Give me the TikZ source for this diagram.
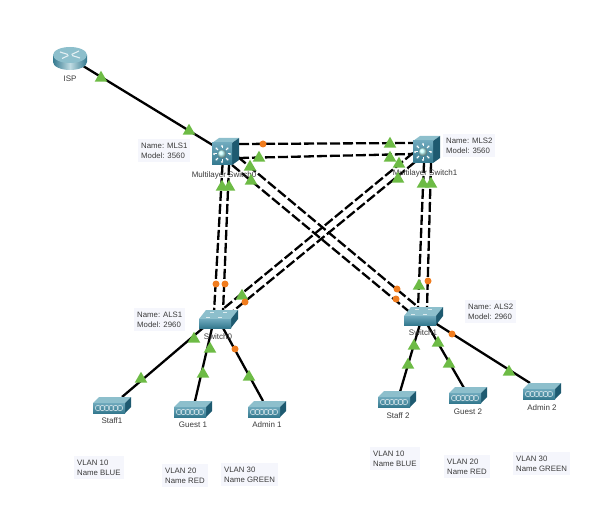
\documentclass[tikz,border=0pt]{standalone}
\usepackage{fontspec}
\setmainfont{Liberation Sans}
\usetikzlibrary{shapes.geometric,arrows.meta}
\definecolor{faceTeal}{HTML}{4A93AB}
\definecolor{faceDeep}{HTML}{34798F}
\definecolor{topTeal}{HTML}{8DBFCC}
\definecolor{sideTeal}{HTML}{1E5A70}
\definecolor{infoBack}{HTML}{F5F6FC}
\definecolor{labelInk}{HTML}{3A3A3A}
\definecolor{portGreen}{HTML}{6DBB45}
\definecolor{portOrange}{HTML}{F07C1E}
\tikzset{
  anchorbox/.style={inner sep=0pt,minimum width=#1,minimum height=10},
  link/.style={line width=2.3pt,black},
  trunk/.style={line width=2.3pt,black,dash pattern=on 10pt off 3pt},
  devlabel/.style={font=\fontsize{8}{9.5}\selectfont,text=labelInk,inner sep=0pt},
  infobox/.style={font=\fontsize{7.8}{10.6}\selectfont,text=labelInk,align=left,anchor=north west,
    fill=infoBack,inner xsep=3pt,inner ysep=3.5pt},
  upmark/.style={regular polygon,regular polygon sides=3,fill=portGreen,inner sep=0pt,minimum size=14.5pt},
  downmark/.style={circle,fill=portOrange,inner sep=0pt,minimum size=7pt},
}
% Generic 3D box: #1,#2 front lower-left corner, #3 width, #4 front height, #5,#6 depth offsets
\newcommand{\boxbody}[6]{%
  \begin{scope}[shift={(#1,#2)}]
    \fill[topTeal] (0,-#4) -- (#3,-#4) -- ++(#5,-#6) -- ++(-#3,0) -- cycle;
    \fill[sideTeal] (#3,0) -- (#3,-#4) -- ++(#5,-#6) -- ++(0,#4) -- cycle;
    \shade[top color=faceTeal!80!white,bottom color=faceDeep] (0,0) rectangle (#3,-#4);
  \end{scope}}
% Multilayer switch: radial arrows around a glossy sphere
\newcommand{\multilayericon}[2]{%
  \boxbody{#1}{#2}{20}{22}{7}{5}
  \begin{scope}[shift={(#1+10,#2-11)}]
    \foreach \ang in {0,45,...,315}
      \draw[white,line width=1pt,-{Latex[length=2pt,width=2.6pt]}] (\ang:5.5) -- (\ang:9.3);
    \shade[ball color=cyan!25!white] (0,0) circle (4.3);
  \end{scope}}
% Access switch: flat box with small port marks on the top face
\newcommand{\accessicon}[2]{%
  \boxbody{#1}{#2}{32}{9}{7}{9}
  \begin{scope}[shift={(#1,#2-9)}]
    \foreach \px/\py in {7/-2,19/-2,11/-6.5,24/-6.5}
      \draw[white!70!topTeal,line width=.8pt] (\px,\py) -- ++(4,0);
  \end{scope}}
% End device: low box with a chain of rings on the front
\newcommand{\ringicon}[2]{%
  \boxbody{#1}{#2}{32}{10}{6}{6}
  \begin{scope}[shift={(#1+5,#2-5)}]
    \foreach \cx in {0,4.4,...,22}
      \draw[white!75!faceTeal,line width=.6pt] (\cx,0) circle (2.7);
  \end{scope}}
\begin{document}
\begin{tikzpicture}[x=1pt,y=-1pt]
\useasboundingbox (0,0) rectangle (602,521);

% Device anchors
\node[anchorbox=30] (isp) at (70,58) {};
\node[anchorbox=20] (mls1) at (224,152) {};
\node[anchorbox=20] (mls2) at (424,152) {};
\node[anchorbox=30] (als1) at (216,320) {};
\node[anchorbox=30] (als2) at (421,316) {};
\node[anchorbox=30] (staff1) at (110,407) {};
\node[anchorbox=30] (guest1) at (190,411) {};
\node[anchorbox=30] (admin1) at (265,411) {};
\node[anchorbox=30] (staff2) at (395,401) {};
\node[anchorbox=30] (guest2) at (466,398) {};
\node[anchorbox=30] (admin2) at (540,393) {};

% Uplink and distribution links
\draw[link] (isp.center) -- (mls1.center);
\draw[trunk] ([shift={(15,-8)}]mls1.center) -- ([shift={(-11,-9)}]mls2.center);
\draw[trunk] ([shift={(15,6)}]mls1.center) -- ([shift={(-11,2)}]mls2.center);
\draw[trunk] ([shift={(-1.5,13)}]mls1.center) -- ([shift={(-2,-8)}]als1.center);
\draw[trunk] ([shift={(5,13)}]mls1.center) -- ([shift={(7,-8)}]als1.center);
\draw[trunk] ([shift={(0,11)}]mls2.center) -- ([shift={(-3,-8)}]als2.center);
\draw[trunk] ([shift={(7,11)}]mls2.center) -- ([shift={(6,-8)}]als2.center);
\draw[trunk] ([shift={(14,5)}]mls1.center) -- ([shift={(-3,-9)}]als2.center);
\draw[trunk] ([shift={(8,13)}]mls1.center) -- ([shift={(-9,-2)}]als2.center);
\draw[trunk] ([shift={(-11,1)}]mls2.center) -- ([shift={(7,-11)}]als1.center);
\draw[trunk] ([shift={(-9,10)}]mls2.center) -- ([shift={(16,-8)}]als1.center);

% Access links
\draw[link] ([shift={(-13,8)}]als1.center) -- ([shift={(12,-10)}]staff1.center);
\draw[link] ([shift={(-4,8)}]als1.center) -- ([shift={(5,-10)}]guest1.center);
\draw[link] ([shift={(7,8)}]als1.center) -- ([shift={(-2,-10)}]admin1.center);
\draw[link] ([shift={(-1,8)}]als2.center) -- ([shift={(5,-9)}]staff2.center);
\draw[link] ([shift={(6,8)}]als2.center) -- ([shift={(-2,-10)}]guest2.center);
\draw[link] ([shift={(14,7)}]als2.center) -- ([shift={(-10,-10)}]admin2.center);

% Router icon
\begin{scope}[shift={(70,55)}]
  \shade[left color=faceDeep,right color=faceDeep,middle color=topTeal!55!white]
    (-17,0) -- (-17,7) arc[start angle=180,end angle=0,x radius=17,y radius=8] -- (17,0) -- cycle;
  \fill[topTeal] (0,0) ellipse[x radius=17,y radius=8];
  \foreach \dx/\dy/\tx/\ty in {-10/-3/-2/-.5,10/3/2/.5,-8/3.5/-1.5/.5,9/-4/1.5/-.5}
    \draw[white!85!faceTeal,line width=1.1pt] (\dx,\dy) -- (\tx,\ty);
\end{scope}

% Switch and end-device icons
\multilayericon{212}{165}
\multilayericon{413}{163}
\accessicon{199}{328}
\accessicon{404}{325}
\ringicon{93}{413}
\ringicon{174}{417}
\ringicon{248}{417}
\ringicon{378}{407}
\ringicon{449}{403}
\ringicon{523}{399}

% Device names
\node[devlabel] (ispname) at (70,79) {ISP};
\node[devlabel] (mls1name) at (224,175) {Multilayer Switch0};
\node[devlabel] (mls2name) at (425,173) {Multilayer Switch1};
\node[devlabel] (als1name) at (218,337) {Switch0};
\node[devlabel] (als2name) at (423,333) {Switch1};
\node[devlabel] (staff1name) at (112,421) {Staff1};
\node[devlabel] (guest1name) at (193,425) {Guest 1};
\node[devlabel] (admin1name) at (267,425) {Admin 1};
\node[devlabel] (staff2name) at (398,416) {Staff 2};
\node[devlabel] (guest2name) at (468,412) {Guest 2};
\node[devlabel] (admin2name) at (542,408) {Admin 2};

% Notes
\node[infobox] (noteA) at (138,139) {Name: MLS1\\Model: 3560};
\node[infobox] (noteB) at (443,134) {Name: MLS2\\Model: 3560};
\node[infobox] (noteC) at (134,308) {Name: ALS1\\Model: 2960};
\node[infobox] (noteD) at (465,300) {Name: ALS2\\Model: 2960};
\node[infobox] (noteE) at (74,456) {VLAN 10\\Name BLUE};
\node[infobox] (noteF) at (162,464) {VLAN 20\\Name RED};
\node[infobox] (noteG) at (221,463) {VLAN 30\\Name GREEN};
\node[infobox] (noteH) at (370,447) {VLAN 10\\Name BLUE};
\node[infobox] (noteI) at (444,455) {VLAN 20\\Name RED};
\node[infobox] (noteJ) at (513,452) {VLAN 30\\Name GREEN};

% Port status markers
\foreach \mx/\my [count=\n] in {101/78,189/131,259/158,250/167,251/181,222/187,229/187,
    390/144,390/158,399/164,398/179,423/184,431/184,
    242/296,194/339,210/349,203/374,249/377,141/379,
    419/286,414/346,438/343,408/365,449/364,509/372}
  \node[upmark] (up\n) at (\mx,\my) {};
\foreach \mx/\my [count=\n] in {263/144,216/284,225/284,245/302,235/349,397/289,396/299,428/281,452/334}
  \node[downmark] (down\n) at (\mx,\my) {};
\end{tikzpicture}
\end{document}
